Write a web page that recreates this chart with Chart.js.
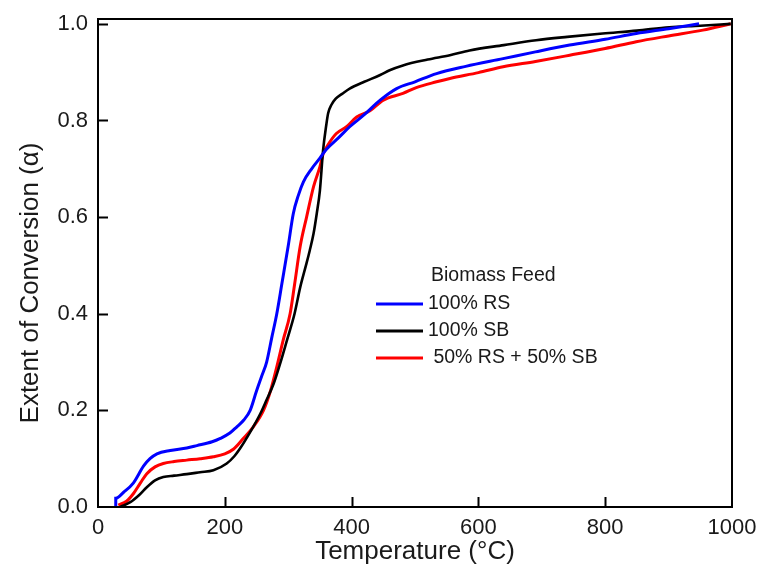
<!DOCTYPE html>
<html>
<head>
<meta charset="utf-8">
<title>Extent of Conversion</title>
<script src="https://cdn.jsdelivr.net/npm/chart.js@4.4.1/dist/chart.umd.min.js"></script>
<style>
  html, body { margin: 0; padding: 0; background: #fff; }
  #wrap { width: 759px; height: 567px; position: relative; }
</style>
</head>
<body>
<div id="wrap"><canvas id="conversionChart"></canvas></div>
<script>
// Conversion vs temperature for each biomass feed
const rsTemp = [28, 28, 40, 56, 72, 82, 93, 114, 140, 156, 180, 193, 208, 219, 230, 240, 250, 258, 266, 274, 282, 290, 300, 308, 316, 324, 337, 350, 360, 380, 397, 420, 445, 471, 500, 534, 580, 639, 690, 744, 800, 849, 900, 948];
const rsAlpha = [0, 0.018, 0.03, 0.05, 0.085, 0.10, 0.11, 0.117, 0.122, 0.127, 0.135, 0.142, 0.153, 0.166, 0.18, 0.2, 0.24, 0.27, 0.30, 0.35, 0.40, 0.462, 0.54, 0.607, 0.645, 0.673, 0.70, 0.722, 0.74, 0.765, 0.787, 0.812, 0.842, 0.866, 0.88, 0.897, 0.912, 0.928, 0.942, 0.956, 0.968, 0.98, 0.99, 1.0];

const sbTemp = [35, 51, 65, 77, 90, 103, 120, 140, 161, 182, 203, 215, 224, 240, 256, 266, 277, 288, 298, 310, 319, 328, 334, 340, 345, 350, 355, 360, 363, 368, 375, 385, 397, 420, 445, 460, 481, 520, 555, 586, 640, 691, 740, 796, 850, 901, 950, 998];
const sbAlpha = [0, 0.01, 0.025, 0.041, 0.055, 0.062, 0.065, 0.068, 0.072, 0.076, 0.09, 0.105, 0.121, 0.155, 0.193, 0.222, 0.255, 0.30, 0.345, 0.40, 0.455, 0.50, 0.531, 0.566, 0.607, 0.655, 0.738, 0.79, 0.815, 0.832, 0.845, 0.855, 0.866, 0.88, 0.894, 0.904, 0.914, 0.926, 0.935, 0.945, 0.956, 0.966, 0.973, 0.980, 0.986, 0.993, 0.996, 1.0];

const mixTemp = [32, 45, 56, 67, 77, 90, 103, 120, 140, 161, 182, 200, 214, 228, 245, 261, 272, 282, 292, 303, 310, 319, 329, 340, 350, 355, 363, 376, 392, 408, 429, 450, 481, 502, 534, 555, 600, 639, 690, 744, 800, 849, 900, 954, 998];
const mixAlpha = [0.004, 0.012, 0.028, 0.05, 0.069, 0.083, 0.09, 0.094, 0.097, 0.100, 0.104, 0.11, 0.12, 0.14, 0.166, 0.20, 0.24, 0.29, 0.345, 0.40, 0.46, 0.54, 0.60, 0.663, 0.704, 0.73, 0.75, 0.773, 0.787, 0.807, 0.82, 0.842, 0.856, 0.868, 0.88, 0.887, 0.899, 0.911, 0.922, 0.935, 0.949, 0.963, 0.975, 0.987, 1.0];

const seriesLabels = ['100% RS', '100% SB', ' 50% RS + 50% SB'];
const seriesColors = ['#0000ff', '#000000', '#ff0000'];
const legendTitle = 'Biomass Feed';

const xTickValues = [0, 200, 400, 600, 800, 1000];
const yTickValues = [0, 0.2, 0.4, 0.6, 0.8, 1.0];

const FONT = '"Liberation Sans", Arial, sans-serif';
const TEXT = '#1a1a1a';

const toPoints = (xs, ys) => xs.map((x, i) => ({ x: x, y: ys[i] }));

// frame, inward tick marks, y title and the in-plot legend
const framePlugin = {
  id: 'frame',
  afterDraw(chart) {
    const { ctx, chartArea: a, scales } = chart;
    ctx.save();
    ctx.strokeStyle = '#000';
    ctx.lineWidth = 2;
    ctx.strokeRect(a.left, a.top, a.right - a.left, a.bottom - a.top);

    ctx.beginPath();
    xTickValues.slice(1, -1).forEach(v => {
      const px = Math.round(scales.x.getPixelForValue(v)) + 0.5;
      ctx.moveTo(px, a.bottom);
      ctx.lineTo(px, a.bottom - 10);
    });
    yTickValues.slice(1).forEach(v => {
      const py = Math.round(scales.y.getPixelForValue(v)) + 0.5;
      ctx.moveTo(a.left, py);
      ctx.lineTo(a.left + 10, py);
    });
    ctx.stroke();

    // y axis title
    ctx.fillStyle = TEXT;
    ctx.font = '26px ' + FONT;
    ctx.textAlign = 'center';
    ctx.textBaseline = 'middle';
    ctx.translate(31, 283);
    ctx.rotate(-Math.PI / 2);
    ctx.fillText('Extent of Conversion (\u03b1)', 0, 0);
    ctx.restore();

    // legend
    ctx.save();
    ctx.font = '19.5px ' + FONT;
    ctx.fillStyle = TEXT;
    ctx.textAlign = 'left';
    ctx.textBaseline = 'middle';
    ctx.fillText(legendTitle, 431, 276);
    const rowY = [304, 331, 358];
    chart.data.datasets.forEach((ds, i) => {
      ctx.strokeStyle = ds.borderColor;
      ctx.lineWidth = 3;
      ctx.beginPath();
      ctx.moveTo(376, rowY[i]);
      ctx.lineTo(423, rowY[i]);
      ctx.stroke();
      ctx.fillText(ds.label, 428, rowY[i]);
    });
    ctx.restore();
  }
};

const ctx = document.getElementById('conversionChart').getContext('2d');
const conversionChart = new Chart(ctx, {
  type: 'line',
  data: {
    datasets: [
      { label: seriesLabels[0], data: toPoints(rsTemp, rsAlpha), borderColor: seriesColors[0], borderWidth: 3 },
      { label: seriesLabels[1], data: toPoints(sbTemp, sbAlpha), borderColor: seriesColors[1], borderWidth: 2.6 },
      { label: seriesLabels[2], data: toPoints(mixTemp, mixAlpha), borderColor: seriesColors[2], borderWidth: 3 }
    ]
  },
  options: {
    responsive: true,
    maintainAspectRatio: false,
    animation: false,
    devicePixelRatio: 1,
    layout: { padding: { left: 0, right: 27, top: 19, bottom: 0 } },
    elements: {
      point: { radius: 0 },
      line: { cubicInterpolationMode: 'monotone', fill: false }
    },
    plugins: {
      legend: { display: false },
      tooltip: { enabled: false }
    },
    scales: {
      x: {
        type: 'linear',
        min: 0,
        max: 1000,
        grid: { display: false, drawTicks: false },
        border: { display: false },
        afterBuildTicks: s => { s.ticks = xTickValues.map(v => ({ value: v })); },
        afterFit: s => { s.height = 60; s.paddingLeft = 0; s.paddingRight = 0; },
        ticks: {
          padding: 8,
          color: TEXT,
          font: { family: FONT, size: 22 },
          maxRotation: 0,
          callback: v => String(v)
        },
        title: {
          display: true,
          text: 'Temperature (\u00b0C)',
          color: TEXT,
          font: { family: FONT, size: 26, lineHeight: 1.2 },
          padding: { top: 0, bottom: 0 }
        }
      },
      y: {
        type: 'linear',
        min: 0,
        max: 1.01,
        grid: { display: false, drawTicks: false },
        border: { display: false },
        afterBuildTicks: s => { s.ticks = yTickValues.map(v => ({ value: v })); },
        afterFit: s => { s.width = 98; s.paddingTop = 0; s.paddingBottom = 0; },
        ticks: {
          padding: 10,
          color: TEXT,
          font: { family: FONT, size: 22 },
          callback: v => v.toFixed(1)
        }
      }
    }
  },
  plugins: [framePlugin]
});
</script>
</body>
</html>
